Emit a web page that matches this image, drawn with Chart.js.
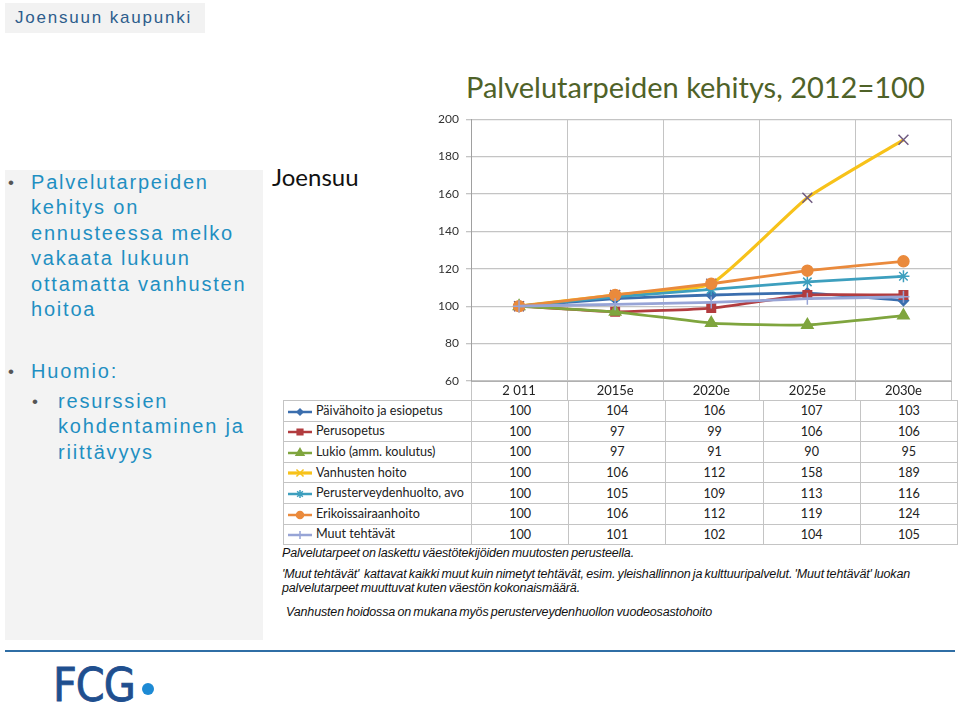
<!DOCTYPE html>
<html>
<head>
<meta charset="utf-8">
<script src="https://cdn.jsdelivr.net/npm/chart.js@4/dist/chart.umd.min.js"></script>
<style>
  body { margin: 0; width: 960px; height: 706px; background: #fff; position: relative; overflow: hidden; font-family: "Liberation Sans", Arial, sans-serif; }
  .abs { position: absolute; }
  #hdr { left: 5px; top: 3px; width: 200px; height: 30px; background: #f2f2f2; color: #2d5d8c; font-size: 17px; line-height: 30px; padding-left: 10px; box-sizing: border-box; letter-spacing: 1.8px; white-space: nowrap; }
  #panel { left: 5px; top: 170px; width: 258px; height: 470px; background: #f3f3f3; }
  .bl { position: absolute; color: #1f8fc2; font-size: 20px; line-height: 25.4px; letter-spacing: 1.8px; white-space: nowrap; }
  .dot { position: absolute; color: #555; font-size: 17px; }
  #joensuu { left: 272px; top: 162px; font-family: Lato, "Open Sans", sans-serif; font-size: 24px; color: #111; }
  #title { left: 466px; top: 69px; font-family: Lato, "Open Sans", sans-serif; font-size: 29px; color: #4f6228; white-space: nowrap; }
  #chartBox { left: 420px; top: 105px; width: 540px; height: 295px; }
  table { position: absolute; left: 283px; top: 400px; border-collapse: collapse; font-family: Lato, "Open Sans", sans-serif; font-size: 12.6px; color: #222; table-layout: fixed; }
  td { border: 1px solid #c4c4c4; height: 19.6px; padding: 0; text-align: center; white-space: nowrap; overflow: hidden; }
  td.nm { text-align: left; padding-left: 3px; }
  td.nm canvas { vertical-align: middle; margin-right: 3px; }
  .note { position: absolute; font-style: italic; font-size: 12.5px; color: #111; letter-spacing: -0.15px; word-spacing: -1px; white-space: nowrap; }
  #rule { left: 5px; top: 650px; width: 950px; height: 2px; background: #2f6ea5; }
  #fcg { left: 53px; top: 658px; font-family: "Liberation Sans Narrow", "DejaVu Sans Condensed", sans-serif; font-size: 46px; color: #1f4f8f; letter-spacing: -1px; -webkit-text-stroke: 0.8px #1f4f8f; }
  #fcgdot { left: 142px; top: 683px; width: 12px; height: 12px; border-radius: 50%; background: #1d8ad4; }
</style>
</head>
<body>
<div id="hdr" class="abs">Joensuun kaupunki</div>
<div id="panel" class="abs"></div>
<div class="abs" style="left:8px;top:170px;">
  <div class="dot" style="left:0;top:3px;">&#8226;</div>
  <div class="bl" style="left:23px;top:0;">Palvelutarpeiden<br>kehitys on<br>ennusteessa melko<br>vakaata lukuun<br>ottamatta vanhusten<br>hoitoa</div>
  <div class="dot" style="left:0;top:192px;">&#8226;</div>
  <div class="bl" style="left:23px;top:189px;">Huomio:</div>
  <div class="dot" style="left:24px;top:222px;">&#8226;</div>
  <div class="bl" style="left:50px;top:219px;">resurssien<br>kohdentaminen ja<br>riittävyys</div>
</div>
<div id="joensuu" class="abs">Joensuu</div>
<div id="title" class="abs">Palvelutarpeiden kehitys, 2012=100</div>
<div id="chartBox" class="abs"><canvas id="chart" width="540" height="295"></canvas></div>
<table id="tbl"></table>
<div class="note" style="left:282px;top:546px;">Palvelutarpeet on laskettu väestötekijöiden muutosten perusteella.</div>
<div class="note" style="left:282px;top:567px;">'Muut tehtävät'&nbsp; kattavat kaikki muut kuin nimetyt tehtävät, esim. yleishallinnon ja kulttuuripalvelut. 'Muut tehtävät' luokan</div>
<div class="note" style="left:282px;top:581px;">palvelutarpeet muuttuvat kuten väestön kokonaismäärä.</div>
<div class="note" style="left:286px;top:605px;">Vanhusten hoidossa on mukana myös perusterveydenhuollon vuodeosastohoito</div>
<div id="rule" class="abs"></div>
<div id="fcg" class="abs">FCG</div>
<div id="fcgdot" class="abs"></div>

<script>
// Categories and series (index 2011 = 100)
const years = ['2 011', '2015e', '2020e', '2025e', '2030e'];
const yTicks = [60, 80, 100, 120, 140, 160, 180, 200];

const paivahoito = [100, 104, 106, 107, 103];
const perusopetus = [100, 97, 99, 106, 106];
const lukio = [100, 97, 91, 90, 95];
const vanhustenHoito = [100, 106, 112, 158, 189];
const perusterveys = [100, 105, 109, 113, 116];
const erikoissairaanhoito = [100, 106, 112, 119, 124];
const muutTehtavat = [100, 101, 102, 104, 105];

// Series with their look
const series = [
  { label: 'Päivähoito ja esiopetus', data: paivahoito, color: '#3b6eae', style: 'rectRot', r: 5 },
  { label: 'Perusopetus', data: perusopetus, color: '#b23c3f', style: 'rect', r: 6 },
  { label: 'Lukio (amm. koulutus)', data: lukio, color: '#7fa53e', style: 'triangle', r: 6.5 },
  { label: 'Vanhusten hoito', data: vanhustenHoito, color: '#f7c21a', style: 'crossRot', r: 7, width: 3.2, pointColor: '#6f5a80' },
  { label: 'Perusterveydenhuolto, avo', data: perusterveys, color: '#3d9fbe', style: 'star', r: 6 },
  { label: 'Erikoissairaanhoito', data: erikoissairaanhoito, color: '#ea8a3c', style: 'circle', r: 5.5 },
  { label: 'Muut tehtävät', data: muutTehtavat, color: '#97a4d6', style: 'cross', r: 6 }
];

// Chart
new Chart(document.getElementById('chart'), {
  type: 'line',
  data: {
    labels: years,
    datasets: series.map((s, i) => ({
      label: s.label,
      data: s.data,
      borderColor: s.color,
      backgroundColor: s.color,
      borderWidth: s.width || 2.8,
      pointStyle: s.style,
      pointRadius: s.r,
      pointBorderColor: s.pointColor || s.color,
      pointBackgroundColor: s.pointColor || s.color,
      pointBorderWidth: 1.5,
      tension: 0.15,
      // later series on top, like Excel
      order: series.length - i
    }))
  },
  options: {
    responsive: false,
    devicePixelRatio: 1,
    animation: false,
    layout: { padding: { top: 12, right: 3, left: 0, bottom: 0 } },
    plugins: { legend: { display: false }, tooltip: { enabled: false } },
    scales: {
      x: {
        offset: true,
        grid: { offset: true, color: '#c4c4c4', tickLength: 19 },
        border: { color: '#b0b0b0' },
        ticks: { padding: -17, color: '#222', font: { family: 'Lato', size: 13 } },
        afterFit: s => { s.height = 19; }
      },
      y: {
        min: 60,
        max: 200,
        afterBuildTicks: s => { s.ticks = yTicks.map(v => ({ value: v })); },
        grid: { color: '#c4c4c4', tickLength: 5, lineWidth: 1.3 },
        border: { color: '#a0a0a0' },
        ticks: { padding: 7, color: '#333', font: { family: 'Lato', size: 12 } },
        afterFit: s => { s.width = 51; }
      }
    }
  }
});

// Data table below the chart
const tbl = document.getElementById('tbl');
const colgroup = document.createElement('colgroup');
colgroup.innerHTML = '<col style="width:188px">' + years.map(() => '<col style="width:97.2px">').join('');
tbl.appendChild(colgroup);
series.forEach(s => {
  const tr = document.createElement('tr');
  const nm = document.createElement('td');
  nm.className = 'nm';
  const ic = document.createElement('canvas');
  ic.width = 26; ic.height = 14;
  const ctx = ic.getContext('2d');
  ctx.strokeStyle = s.color;
  ctx.lineWidth = s.width || 2.5;
  ctx.beginPath(); ctx.moveTo(1, 7); ctx.lineTo(25, 7); ctx.stroke();
  ctx.fillStyle = s.color;
  ctx.strokeStyle = s.color;
  ctx.lineWidth = 1.5;
  Chart.helpers.drawPoint(ctx, { pointStyle: s.style, radius: s.r - 2, rotation: 0, borderWidth: 1.5 }, 13, 7);
  nm.appendChild(ic);
  nm.appendChild(document.createTextNode(s.label));
  tr.appendChild(nm);
  s.data.forEach(v => {
    const td = document.createElement('td');
    td.textContent = v;
    tr.appendChild(td);
  });
  tbl.appendChild(tr);
});
</script>
</body>
</html>
